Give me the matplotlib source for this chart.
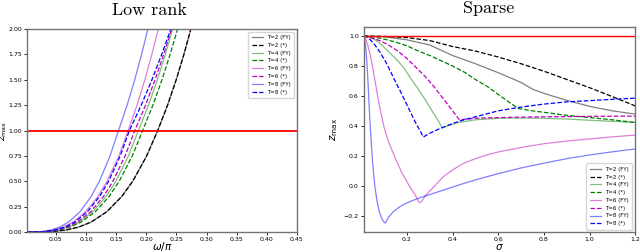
import matplotlib
matplotlib.use("Agg")
import matplotlib.pyplot as plt

labels = ["T=2 (FY)", "T=2 (*)", "T=4 (FY)", "T=4 (*)",
          "T=6 (FY)", "T=6 (*)", "T=8 (FY)", "T=8 (*)"]

# ---- low rank panel: omega/pi where z_max reaches each level ----
lr_z = [0.0, 0.005, 0.02, 0.05, 0.1, 0.2, 0.35, 0.5, 0.75, 1.0, 1.25, 1.5, 1.75, 2.0, 2.2]
lr_T2_fy = [0.002, 0.044, 0.0669, 0.0883, 0.1090, 0.1345, 0.1593, 0.1775, 0.2007, 0.219, 0.2354, 0.2497, 0.2625, 0.274, 0.2827]
lr_T2_st = [0.002, 0.044, 0.0669, 0.0883, 0.1090, 0.1345, 0.1593, 0.1775, 0.2007, 0.219, 0.2354, 0.2497, 0.2625, 0.274, 0.2827]
lr_T4_fy = [0.002, 0.0338, 0.0529, 0.0711, 0.0890, 0.1113, 0.1333, 0.1495, 0.1704, 0.187, 0.2037, 0.2184, 0.2317, 0.2438, 0.2529]
lr_T4_st = [0.002, 0.0351, 0.0549, 0.0738, 0.0923, 0.1154, 0.1383, 0.1551, 0.1768, 0.194, 0.2110, 0.2261, 0.2396, 0.252, 0.2612]
lr_T6_fy = [0.002, 0.0291, 0.0461, 0.0626, 0.0789, 0.0994, 0.1198, 0.1349, 0.1545, 0.170, 0.1847, 0.1977, 0.2093, 0.220, 0.2279]
lr_T6_st = [0.002, 0.0328, 0.0512, 0.0689, 0.0861, 0.1077, 0.1290, 0.1447, 0.1650, 0.181, 0.1988, 0.2146, 0.2290, 0.2422, 0.2521]
lr_T8_fy = [0.002, 0.0263, 0.0418, 0.0567, 0.0715, 0.0901, 0.1085, 0.1222, 0.1399, 0.154, 0.1683, 0.1809, 0.1923, 0.2028, 0.2106]
lr_T8_st = [0.002, 0.0311, 0.0487, 0.0654, 0.0818, 0.1023, 0.1226, 0.1375, 0.1568, 0.172, 0.1917, 0.2094, 0.2257, 0.2408, 0.2522]

# ---- sparse panel: z_max against sigma ----
sp_T2_fy_s = [0.01, 0.1, 0.2, 0.3, 0.4, 0.5, 0.6, 0.7, 0.75, 0.8, 0.9, 1.0, 1.1, 1.2]
sp_T2_fy_z = [1.0, 0.995, 0.975, 0.94, 0.87, 0.815, 0.755, 0.69, 0.645, 0.617, 0.57, 0.53, 0.5, 0.478]
sp_T2_st_s = [0.01, 0.1, 0.2, 0.3, 0.4, 0.5, 0.6, 0.7, 0.8, 0.9, 1.0, 1.1, 1.2]
sp_T2_st_z = [1.0, 0.998, 0.99, 0.97, 0.93, 0.9, 0.86, 0.815, 0.765, 0.71, 0.655, 0.595, 0.533]
sp_T4_fy_s = [0.01, 0.03, 0.05, 0.075, 0.1, 0.13, 0.16, 0.19, 0.22, 0.25, 0.28, 0.31, 0.335, 0.355,
              0.38, 0.42, 0.5, 0.6, 0.7, 0.8, 0.9, 1.0, 1.1, 1.2]
sp_T4_fy_z = [1.0, 0.995, 0.985, 0.96, 0.925, 0.88, 0.835, 0.78, 0.71, 0.645, 0.575, 0.5, 0.44, 0.385,
              0.40, 0.42, 0.44, 0.45, 0.452, 0.45, 0.445, 0.437, 0.43, 0.422]
sp_T4_st_s = [0.01, 0.05, 0.1, 0.15, 0.2, 0.25, 0.3, 0.35, 0.4, 0.45, 0.5, 0.55, 0.6, 0.65, 0.69,
              0.75, 0.8, 0.9, 1.0, 1.1, 1.2]
sp_T4_st_z = [1.0, 0.995, 0.98, 0.96, 0.935, 0.9, 0.87, 0.835, 0.8, 0.76, 0.71, 0.665, 0.61, 0.555, 0.515,
              0.5, 0.49, 0.47, 0.455, 0.44, 0.422]
sp_T6_fy_s = [0.01, 0.02, 0.03, 0.04, 0.05, 0.065, 0.08, 0.1, 0.12, 0.15, 0.18, 0.21, 0.235, 0.255,
              0.265, 0.28, 0.3, 0.32, 0.36, 0.4, 0.45, 0.5, 0.55, 0.6, 0.7, 0.8, 0.9, 1.0, 1.1, 1.2]
sp_T6_fy_z = [1.0, 0.98, 0.93, 0.87, 0.79, 0.66, 0.53, 0.39, 0.29, 0.18, 0.08, 0.0, -0.06, -0.115,
              -0.105, -0.07, -0.035, -0.005, 0.06, 0.105, 0.15, 0.18, 0.205, 0.225, 0.255, 0.28, 0.298, 0.312, 0.326, 0.338]
sp_T6_st_s = [0.01, 0.04, 0.08, 0.12, 0.16, 0.2, 0.24, 0.28, 0.32, 0.36, 0.4, 0.43,
              0.45, 0.5, 0.6, 0.8, 1.0, 1.2]
sp_T6_st_z = [1.0, 0.99, 0.97, 0.94, 0.9, 0.85, 0.79, 0.73, 0.66, 0.58, 0.5, 0.44,
              0.443, 0.45, 0.455, 0.46, 0.463, 0.465]
sp_T8_fy_s = [0.01, 0.015, 0.02, 0.025, 0.03, 0.035, 0.04, 0.05, 0.06, 0.07, 0.08, 0.09, 0.1, 0.105,
              0.12, 0.14, 0.17, 0.2, 0.25, 0.3, 0.35, 0.4, 0.45, 0.5, 0.6, 0.7, 0.8, 0.9, 1.0, 1.1, 1.2]
sp_T8_fy_z = [1.0, 0.98, 0.92, 0.82, 0.68, 0.52, 0.38, 0.15, -0.01, -0.11, -0.18, -0.22, -0.245, -0.25,
              -0.21, -0.175, -0.14, -0.115, -0.085, -0.06, -0.035, -0.01, 0.015, 0.038, 0.08, 0.118, 0.15, 0.18, 0.205, 0.226, 0.245]
sp_T8_st_s = [0.01, 0.025, 0.04, 0.06, 0.085, 0.11, 0.145, 0.175, 0.205, 0.235, 0.26, 0.272,
              0.3, 0.35, 0.4, 0.45, 0.5, 0.6, 0.7, 0.8, 0.9, 1.0, 1.1, 1.2]
sp_T8_st_z = [1.0, 0.995, 0.975, 0.94, 0.885, 0.82, 0.71, 0.62, 0.525, 0.43, 0.36, 0.325,
              0.35, 0.385, 0.415, 0.44, 0.46, 0.5, 0.525, 0.545, 0.56, 0.568, 0.577, 0.585]

styles = [("k", "-", 0.5), ("k", "--", 1.0), ("g", "-", 0.5), ("g", "--", 1.0),
          ("m", "-", 0.5), ("m", "--", 1.0), ("b", "-", 0.5), ("b", "--", 1.0)]

fig = plt.figure(figsize=(6.4, 2.52), dpi=100)
ax1 = fig.add_axes([0.042, 0.079, 0.422, 0.806])
ax2 = fig.add_axes([0.568, 0.078, 0.4245, 0.816])

lr_x = [lr_T2_fy, lr_T2_st, lr_T4_fy, lr_T4_st, lr_T6_fy, lr_T6_st, lr_T8_fy, lr_T8_st]
for xs, (c, ls, a), lab in zip(lr_x, styles, labels):
    ax1.plot(xs, lr_z, color=c, ls=ls, alpha=a, lw=0.9, label=lab)
ax1.axhline(1.0, color="r", lw=1.3)
ax1.set_xlim(0.002, 0.45)
ax1.set_ylim(0, 2)
ax1.set_xticks([0.05, 0.10, 0.15, 0.20, 0.25, 0.30, 0.35, 0.40, 0.45])
ax1.set_yticks([0, 0.25, 0.5, 0.75, 1.0, 1.25, 1.5, 1.75, 2.0])
ax1.set_yticklabels(["0.00", "0.25", "0.50", "0.75", "1.00", "1.25", "1.50", "1.75", "2.00"])
ax1.set_xlabel(r"$\omega/\pi$", fontsize=7.5)
ax1.set_ylabel(r"$z_{\max}$", fontsize=6.5)
ax1.xaxis.set_label_coords(0.5, -0.04)
ax1.yaxis.set_label_coords(-0.066, 0.5)
ax1.set_title("Low rank", fontfamily="cmr10", fontsize=13, x=0.455, pad=10)
ax1.legend(loc="upper right", fontsize=4.0, frameon=True, borderpad=0.6)

sp = [(sp_T2_fy_s, sp_T2_fy_z), (sp_T2_st_s, sp_T2_st_z), (sp_T4_fy_s, sp_T4_fy_z),
      (sp_T4_st_s, sp_T4_st_z), (sp_T6_fy_s, sp_T6_fy_z), (sp_T6_st_s, sp_T6_st_z),
      (sp_T8_fy_s, sp_T8_fy_z), (sp_T8_st_s, sp_T8_st_z)]
for (s, z), (c, ls, a), lab in zip(sp, styles, labels):
    ax2.plot(s, z, color=c, ls=ls, alpha=a, lw=0.9, label=lab)
ax2.axhline(1.0, color="r", lw=1.0)
ax2.set_xlim(0.01, 1.2)
ax2.set_ylim(-0.3125, 1.0625)
ax2.set_xticks([0.2, 0.4, 0.6, 0.8, 1.0, 1.2])
ax2.set_yticks([-0.2, 0.0, 0.2, 0.4, 0.6, 0.8, 1.0])
ax2.set_xlabel(r"$\sigma$", fontsize=7.5)
ax2.set_ylabel(r"$z_{\max}$", fontsize=7.5)
ax2.xaxis.set_label_coords(0.5, -0.047)
ax2.yaxis.set_label_coords(-0.085, 0.5)
ax2.set_title("Sparse", fontfamily="cmr10", fontsize=13, x=0.46, pad=10)
ax2.legend(loc="lower right", fontsize=4.0, frameon=True, borderpad=0.6)

for ax in (ax1, ax2):
    ax.tick_params(labelsize=4.5, length=2, width=0.6, pad=1.5)
    for sp_ in ax.spines.values():
        sp_.set_color("0.45")
        sp_.set_linewidth(1.0)

fig.savefig("out.png", dpi=100)
